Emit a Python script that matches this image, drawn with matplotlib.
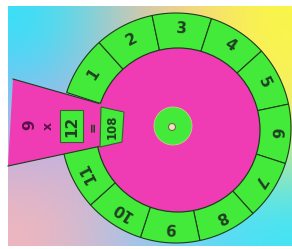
import numpy as np
import matplotlib.pyplot as plt
from matplotlib.patches import Polygon, Circle, Rectangle

# Wheel content
numbers = [1, 2, 3, 4, 5, 6, 7, 8, 9, 10, 11]
factor = 9
multiplier = 12
product = 108

GREEN = '#44ea3a'
PINK = '#f03cb4'
LINE = '#1d3b1d'
INK = '#1f3f22'
PURPLE = '#5a1048'

# background colour grid (3x3, top row first)
bg = np.array([
    [[50, 225, 250], [242, 188, 170], [250, 248, 70]],
    [[175, 175, 238], [240, 165, 195], [245, 238, 110]],
    [[242, 182, 188], [150, 198, 245], [60, 228, 250]],
]) / 255.0

fig = plt.figure(figsize=(2.92, 2.49), dpi=100)
ax = fig.add_axes([0, 0, 1, 1])
ax.imshow(bg, extent=(8, 292, 246, 6), interpolation='bicubic', zorder=0)
ax.set_xlim(0, 292)
ax.set_ylim(249, 0)
ax.set_aspect('auto')
ax.axis('off')


def pt(cx, cy, r, deg):
    a = np.radians(deg)
    return cx + r * np.cos(a), cy - r * np.sin(a)


# green ring segments
cx, cy = 176, 128
r_out, r_in = 115, 70
for n in numbers:
    c = 90 - (n - 3) * 30 - 3
    th = np.linspace(c - 15, c + 15, 30)
    outer = [pt(cx, cy, r_out, t) for t in th]
    inner = [pt(cx, cy, r_in, t) for t in th[::-1]]
    ax.add_patch(Polygon(outer + inner, closed=True, facecolor=GREEN,
                         edgecolor=LINE, lw=0.8, zorder=2))
    tx, ty = pt(cx, cy, 99, c)
    ax.text(tx, ty, str(n), rotation=c - 90, ha='center', va='center',
            fontsize=11, fontweight='bold', color=INK, zorder=6)

# pink disc
ax.add_patch(Circle((178, 130), 82, facecolor=PINK, edgecolor=LINE,
                    lw=0.9, zorder=3))

# pink window arm on the left
arm = [(13, 79), (130, 112), (130, 140), (8, 166)]
ax.add_patch(Polygon(arm, closed=True, facecolor=PINK, edgecolor='none',
                     zorder=4))
ax.plot([13, 99], [79, 103.5], color=LINE, lw=0.8, zorder=4)
ax.plot([8, 99], [166, 146.5], color=LINE, lw=0.8, zorder=4)

# boxes in the window
ax.add_patch(Rectangle((60, 110), 23, 32, facecolor=GREEN, edgecolor='#3a5a30',
                       lw=0.8, zorder=5))
ax.add_patch(Polygon([(101, 107), (124, 112), (122, 142), (100, 147)],
                     closed=True, facecolor=GREEN, edgecolor='#3a5a30',
                     lw=0.8, zorder=5))

ax.text(30, 125, str(factor), rotation=90, ha='center', va='center',
        fontsize=11, fontweight='bold', color=PURPLE, zorder=6)
ax.text(48, 126, 'x', rotation=90, ha='center', va='center',
        fontsize=9, fontweight='bold', color=PURPLE, zorder=6)
ax.text(72, 126, str(multiplier), rotation=90, ha='center', va='center',
        fontsize=11, fontweight='bold', color=INK, zorder=6)
ax.text(93, 127, '=', rotation=90, ha='center', va='center',
        fontsize=9, fontweight='bold', color=INK, zorder=6)
ax.text(112, 127, str(product), rotation=90, ha='center', va='center',
        fontsize=8.5, fontweight='bold', color=INK, zorder=6)

# hub
ax.add_patch(Circle((173, 126), 19, facecolor=GREEN, edgecolor='#c0d080',
                    lw=0.6, zorder=5))
ax.add_patch(Circle((172, 127), 3.5, facecolor='#ece4c8', edgecolor='#7a6a40',
                    lw=0.8, zorder=6))

fig.savefig('out.png', dpi=100)
